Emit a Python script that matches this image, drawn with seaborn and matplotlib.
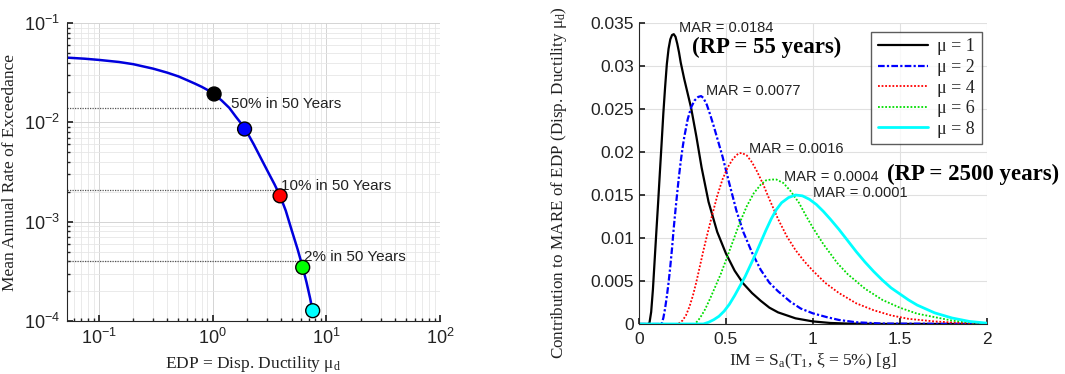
import numpy as np
import pandas as pd
import matplotlib
matplotlib.use("Agg")
import matplotlib.pyplot as plt
import matplotlib.ticker as mticker
import seaborn as sns

# ---------------- data: left panel (hazard curve of EDP) ----------------
edp_curve_x = [0.0523, 0.075, 0.1, 0.15, 0.2, 0.3, 0.4, 0.5, 0.6, 0.7, 0.8, 0.9, 1.0, 1.2,
               1.4, 1.6, 1.8, 2.0, 2.3, 2.71, 3.1, 3.5, 3.92, 4.4, 4.96, 5.6, 6.2, 6.7, 7.2, 7.59]
edp_curve_y = [0.0448, 0.0437, 0.0425, 0.0405, 0.0385, 0.0347, 0.0316, 0.0290, 0.0265, 0.0245,
               0.0228, 0.0212, 0.0197, 0.0166, 0.0140, 0.0114, 0.0096, 0.0080, 0.0060, 0.00417,
               0.0031, 0.00238, 0.00182, 0.00129, 0.00082, 0.000525, 0.000347, 0.000245,
               0.00017, 0.000127]
dot_x = [1.03, 1.91, 3.92, 6.2, 7.59]
dot_y = [0.0193, 0.00857, 0.00182, 0.000347, 0.000127]
dot_colors = ["#000000", "#0000ff", "#ff0000", "#00ff00", "#00ffff"]
hazard_rates = [0.0139, 0.0021, 0.000404]
hazard_end_x = [1.2, 3.57, 5.91]
hazard_labels = ["50% in 50 Years", "10% in 50 Years", "2% in 50 Years"]

# ---------------- data: right panel (deaggregation) ----------------
mu_labels = ["μ = 1", "μ = 2", "μ = 4", "μ = 6", "μ = 8"]
im_mu1 = [0.0, 0.05, 0.06, 0.07, 0.08, 0.09, 0.10, 0.11, 0.12, 0.13, 0.14, 0.15, 0.16, 0.17,
          0.18, 0.19, 0.20, 0.21, 0.22, 0.23, 0.24, 0.26, 0.28, 0.30, 0.33, 0.36, 0.40, 0.45,
          0.50, 0.55, 0.60, 0.65, 0.70, 0.75, 0.80, 0.90, 1.0, 1.1, 1.2, 1.4, 2.0]
c_mu1 = [0.0, 0.0, 0.0001, 0.0014, 0.0040, 0.0074, 0.0108, 0.0141, 0.0176, 0.0210, 0.0245,
         0.0275, 0.0302, 0.0320, 0.0331, 0.0336, 0.0337, 0.0334, 0.0326, 0.0316, 0.0304,
         0.0285, 0.0268, 0.0251, 0.0218, 0.0182, 0.0142, 0.0107, 0.0082, 0.0062, 0.0047,
         0.0036, 0.0027, 0.0019, 0.00135, 0.00066, 0.0003, 0.00012, 0.00005, 0.00001, 0.0]
im_mu2 = [0.0, 0.13, 0.14, 0.15, 0.16, 0.17, 0.18, 0.19, 0.20, 0.21, 0.22, 0.23, 0.24, 0.25,
          0.26, 0.28, 0.30, 0.32, 0.34, 0.357, 0.37, 0.39, 0.41, 0.43, 0.45, 0.48, 0.52, 0.56,
          0.60, 0.65, 0.70, 0.75, 0.80, 0.87, 0.93, 1.0, 1.08, 1.15, 1.25, 1.4, 2.0]
c_mu2 = [0.0, 0.0, 0.0007, 0.0018, 0.0032, 0.0048, 0.0067, 0.0088, 0.0112, 0.0133, 0.0153,
         0.0172, 0.0189, 0.0204, 0.0217, 0.0238, 0.0252, 0.0260, 0.0264, 0.0265, 0.0263,
         0.0255, 0.0243, 0.0230, 0.0216, 0.0195, 0.0163, 0.0132, 0.0107, 0.0083, 0.0063,
         0.0048, 0.0038, 0.0026, 0.0018, 0.00124, 0.0008, 0.00047, 0.0002, 0.00005, 0.0]
im_mu4 = [0.0, 0.225, 0.25, 0.27, 0.29, 0.31, 0.33, 0.35, 0.37, 0.39, 0.42, 0.45, 0.48, 0.51,
          0.54, 0.57, 0.59, 0.62, 0.65, 0.68, 0.715, 0.75, 0.80, 0.85, 0.90, 0.95, 1.0, 1.07,
          1.15, 1.25, 1.35, 1.45, 1.55, 1.7, 1.85, 2.0]
c_mu4 = [0.0, 0.0, 0.0004, 0.0010, 0.0020, 0.0033, 0.0049, 0.0067, 0.0085, 0.0102, 0.0126,
         0.0149, 0.0168, 0.0182, 0.0192, 0.0198, 0.0199, 0.0196, 0.0188, 0.0177, 0.0162,
         0.0145, 0.0122, 0.0102, 0.0086, 0.0073, 0.0062, 0.0048, 0.0036, 0.0024, 0.0016,
         0.0010, 0.0006, 0.0003, 0.00012, 0.00005]
im_mu6 = [0.0, 0.32, 0.34, 0.36, 0.38, 0.41, 0.44, 0.47, 0.50, 0.54, 0.58, 0.62, 0.66, 0.70,
          0.73, 0.76, 0.79, 0.83, 0.87, 0.92, 0.96, 1.0, 1.06, 1.14, 1.2, 1.3, 1.4, 1.5, 1.6,
          1.7, 1.8, 1.9, 2.0]
c_mu6 = [0.0, 0.0, 0.0004, 0.0010, 0.0017, 0.0030, 0.0044, 0.0058, 0.0074, 0.0096, 0.0118,
         0.0137, 0.0152, 0.0162, 0.0167, 0.0168, 0.0168, 0.0164, 0.0155, 0.0141, 0.0126,
         0.0112, 0.0093, 0.0071, 0.0058, 0.0041, 0.0028, 0.0019, 0.0012, 0.0008, 0.0004,
         0.0002, 0.0001]
im_mu8 = [0.0, 0.37, 0.40, 0.43, 0.46, 0.49, 0.52, 0.55, 0.58, 0.61, 0.64, 0.67, 0.70, 0.73,
          0.76, 0.79, 0.82, 0.86, 0.90, 0.94, 0.98, 1.02, 1.06, 1.10, 1.15, 1.2, 1.25, 1.3,
          1.35, 1.4, 1.45, 1.5, 1.55, 1.6, 1.7, 1.8, 1.9, 2.0]
c_mu8 = [0.0, 0.0, 0.0002, 0.0005, 0.0009, 0.0015, 0.0023, 0.0033, 0.0044, 0.0055, 0.0068,
         0.0081, 0.0095, 0.0109, 0.0122, 0.0133, 0.0141, 0.0147, 0.0150, 0.0149, 0.0145,
         0.0139, 0.0131, 0.0122, 0.0110, 0.0097, 0.0084, 0.0072, 0.0061, 0.0051, 0.0042,
         0.0035, 0.0028, 0.0022, 0.0013, 0.0007, 0.0003, 0.0001]
mar_texts = ["MAR = 0.0184", "MAR = 0.0077", "MAR = 0.0016", "MAR = 0.0004", "MAR = 0.0001"]
mar_pos_x = [0.23, 0.386, 0.633, 0.834, 1.001]
mar_pos_y = [0.0344, 0.0271, 0.0203, 0.0171, 0.0152]
rp_texts = ["(RP = 55 years)", "(RP = 2500 years)"]
rp_pos_x = [0.305, 1.427]
rp_pos_y = [0.0322, 0.01744]

# ---------------- style ----------------
sns.set_theme(style="white")
plt.rcParams["font.family"] = ["Liberation Sans", "DejaVu Sans"]
plt.rcParams["mathtext.fontset"] = "custom"
plt.rcParams["mathtext.rm"] = "Liberation Serif"
plt.rcParams["mathtext.it"] = "Liberation Serif:italic"
plt.rcParams["mathtext.sf"] = "Liberation Sans"
plt.rcParams["axes.edgecolor"] = "#262626"
plt.rcParams["axes.linewidth"] = 0.8
serif = ["Liberation Serif", "DejaVu Serif"]

fig = plt.figure(figsize=(10.65, 3.74), dpi=100)
ax1 = fig.add_axes([0.0629, 0.1417, 0.3502, 0.7968])
ax2 = fig.add_axes([0.6, 0.1337, 0.3265, 0.8048])

# ---------------- left panel ----------------
ax1.set_xscale("log")
ax1.set_yscale("log")
ax1.set_xlim(0.0523, 100)
ax1.set_ylim(1e-4, 1e-1)
ax1.grid(True, which="major", color="#d4d4d4", linewidth=0.7)
ax1.grid(True, which="minor", color="#e6e6e6", linewidth=0.6)
ax1.set_axisbelow(True)
for r, xe in zip(hazard_rates, hazard_end_x):
    ax1.plot([0.0523, xe], [r, r], linestyle=(0, (1, 1)), color="#555555", linewidth=0.9)
df_curve = pd.DataFrame({"x": edp_curve_x, "y": edp_curve_y})
sns.lineplot(data=df_curve, x="x", y="y", ax=ax1, color="#0000dd", linewidth=1.8,
             sort=False, estimator=None)
df_dots = pd.DataFrame({"x": dot_x, "y": dot_y, "c": dot_colors})
sns.scatterplot(data=df_dots, x="x", y="y", hue="c", palette={c: c for c in dot_colors},
                ax=ax1, s=100, edgecolor="black", linewidth=1.0, legend=False, zorder=5)
lab_x = [1.44, 4.03, 6.41]
lab_y = [0.0153, 0.00229, 0.00044]
for t, xx, yy in zip(hazard_labels, lab_x, lab_y):
    ax1.text(xx, yy, t, fontsize=11, ha="left", va="center", color="#222222")
fmt = mticker.FuncFormatter(lambda v, p: r"$\mathsf{10^{%d}}$" % int(round(np.log10(v))))
ax1.xaxis.set_major_formatter(fmt)
ax1.yaxis.set_major_formatter(fmt)
ax1.xaxis.set_minor_formatter(mticker.NullFormatter())
ax1.yaxis.set_minor_formatter(mticker.NullFormatter())
ax1.xaxis.set_major_locator(mticker.LogLocator(base=10, numticks=10))
ax1.xaxis.set_minor_locator(mticker.LogLocator(base=10, subs=np.arange(2, 10), numticks=20))
ax1.yaxis.set_minor_locator(mticker.LogLocator(base=10, subs=np.arange(2, 10), numticks=20))
ax1.tick_params(which="both", direction="in", top=False, right=False, labelsize=13,
                colors="#222222", left=True, bottom=True)
ax1.tick_params(which="major", length=4, pad=5)
ax1.tick_params(which="minor", length=2)
for s in ["top", "right"]:
    ax1.spines[s].set_visible(False)
ax1.set_xlabel("EDP = Disp. Ductility μ$_\\mathrm{d}$", family=serif, fontsize=12.5,
               labelpad=4, color="#222222")
ax1.set_ylabel("Mean Annual Rate of Exceedance", family=serif, fontsize=12.5,
               color="#222222")
ax1.yaxis.set_label_coords(-0.131, 0.5)

# ---------------- right panel ----------------
ax2.set_xlim(0, 2)
ax2.set_ylim(0, 0.035)
ax2.grid(True, which="major", color="#e0e0e0", linewidth=0.8)
ax2.set_axisbelow(True)
series = [(im_mu1, c_mu1, "#000000", "-", 1.6),
          (im_mu2, c_mu2, "#0000ff", (0, (3, 1, 1, 1)), 1.6),
          (im_mu4, c_mu4, "#ff0000", (0, (1, 1)), 1.3),
          (im_mu6, c_mu6, "#00dd00", (0, (1, 1)), 1.3),
          (im_mu8, c_mu8, "#00ffff", "-", 2.0)]
for (xs, ys, col, ls, lw), lab in zip(series, mu_labels):
    d = pd.DataFrame({"x": xs, "y": ys})
    sns.lineplot(data=d, x="x", y="y", ax=ax2, color=col, linestyle=ls, linewidth=lw,
                 label=lab, estimator=None)
for t, xx, yy in zip(mar_texts, mar_pos_x, mar_pos_y):
    ax2.text(xx, yy, t, fontsize=10.5, ha="left", va="center", color="#222222")
for t, xx, yy in zip(rp_texts, rp_pos_x, rp_pos_y):
    ax2.text(xx, yy, t, fontsize=16.5, ha="left", va="center", family=serif,
             fontweight="bold", color="black", clip_on=False)
ax2.set_xticks([0, 0.5, 1, 1.5, 2])
ax2.set_xticklabels(["0", "0.5", "1", "1.5", "2"])
ax2.set_yticks([0, 0.005, 0.01, 0.015, 0.02, 0.025, 0.03, 0.035])
ax2.set_yticklabels(["0", "0.005", "0.01", "0.015", "0.02", "0.025", "0.03", "0.035"])
ax2.tick_params(which="both", direction="in", top=False, right=False, labelsize=12.5,
                colors="#222222", length=4, left=True, bottom=True)
ax2.tick_params(axis="x", pad=6)
for s in ["top", "right"]:
    ax2.spines[s].set_visible(False)
ax2.set_xlabel("IM = S$_\\mathrm{a}$(T$_\\mathrm{1}$, ξ = 5%) [g]", family=serif,
               fontsize=12.5, labelpad=3, color="#222222")
ax2.set_ylabel("Contribution to MARE of EDP (Disp. Ductility μ$_\\mathrm{d}$)", family=serif,
               fontsize=12.3, color="#222222")
ax2.yaxis.set_label_coords(-0.2, 0.47)
leg = ax2.legend(loc="upper right", bbox_to_anchor=(0.985, 0.97), frameon=True, fancybox=False,
                 prop={"family": serif, "size": 13}, handlelength=2.8, labelspacing=0.2,
                 borderpad=0.35, handletextpad=0.5, borderaxespad=0.0)
leg.get_frame().set_edgecolor("#333333")
leg.get_frame().set_linewidth(1.0)
for lt in leg.get_texts():
    lt.set_color("#222222")

fig.savefig("out.png", dpi=100)
